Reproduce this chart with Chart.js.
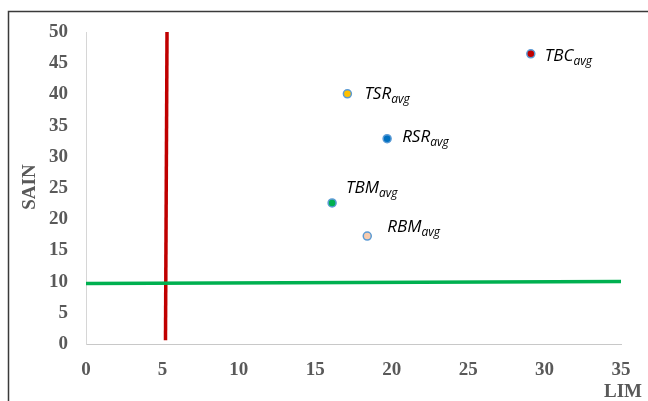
<!DOCTYPE html>
<html>
<head>
<meta charset="utf-8">
<script src="https://cdn.jsdelivr.net/npm/chart.js@4"></script>
<style>
html,body{margin:0;padding:0;background:#fff;}
#wrap{width:648px;height:401px;position:relative;}
</style>
</head>
<body>
<div id="wrap"><canvas id="c" width="648" height="401"></canvas></div>
<script>
// ---- data ----
const pointNames = ['TSR', 'RSR', 'TBM', 'RBM', 'TBC'];
const pointSub = 'avg';
const limValues = [17.1, 19.7, 16.1, 18.4, 29.1];
const sainValues = [40.1, 32.9, 22.6, 17.3, 46.5];
const greenLineLim = [0, 35];
const greenLineSain = [9.7, 10.0];
const redLineLim = [5.2, 5.3];
const redLineSain = [0.6, 50];
const xTicks = [0, 5, 10, 15, 20, 25, 30, 35];
const yTicks = [0, 5, 10, 15, 20, 25, 30, 35, 40, 45, 50];

// ---- styles ----
const pointFill = ['#FFC000', '#0070C0', '#00B050', '#F8CBAD', '#C00000'];
const labelOffsets = [[17, 5], [15, 3], [14, -10], [20, -4], [14, 7]];
const tickColor = '#595959';
const serif = '"Liberation Serif", "Times New Roman", serif';

const labelPlugin = {
  id: 'labels',
  afterDatasetsDraw(chart) {
    const ctx = chart.ctx;
    const xs = chart.scales.x, ys = chart.scales.y;
    ctx.save();
    ctx.fillStyle = '#000';
    ctx.textBaseline = 'alphabetic';
    ctx.textAlign = 'left';
    pointNames.forEach((n, i) => {
      const px = xs.getPixelForValue(limValues[i]) + labelOffsets[i][0];
      const py = ys.getPixelForValue(sainValues[i]) + labelOffsets[i][1];
      ctx.font = 'italic 17px "Open Sans", sans-serif';
      ctx.fillText(n, px, py);
      const w = ctx.measureText(n).width;
      ctx.font = 'italic 12px "Open Sans", sans-serif';
      ctx.fillText(pointSub, px + w, py + 4);
    });
    ctx.restore();
  }
};

const framePlugin = {
  id: 'frame',
  beforeDraw(chart) {
    const ctx = chart.ctx;
    ctx.save();
    ctx.fillStyle = '#fff';
    ctx.fillRect(0, 0, chart.width, chart.height);
    ctx.strokeStyle = '#3a3a3a';
    ctx.lineWidth = 1.5;
    ctx.beginPath();
    ctx.moveTo(8.5, 420);
    ctx.lineTo(8.5, 11.5);
    ctx.lineTo(660, 11.5);
    ctx.stroke();
    ctx.restore();
  },
  afterDraw(chart) {
    const ctx = chart.ctx;
    ctx.save();
    ctx.fillStyle = tickColor;
    ctx.font = 'bold 19px ' + serif;
    ctx.textAlign = 'center';
    ctx.textBaseline = 'middle';
    ctx.fillText('LIM', 623, 392);
    ctx.translate(30, 187);
    ctx.rotate(-Math.PI / 2);
    ctx.fillText('SAIN', 0, 0);
    ctx.restore();
  }
};

new Chart(document.getElementById('c'), {
  type: 'scatter',
  data: {
    datasets: [
      {
        label: 'green',
        data: greenLineLim.map((x, i) => ({x, y: greenLineSain[i]})),
        showLine: true, borderColor: '#00B050', borderWidth: 3.5,
        pointRadius: 0, clip: false
      },
      {
        label: 'red',
        data: redLineLim.map((x, i) => ({x, y: redLineSain[i]})),
        showLine: true, borderColor: '#C00000', borderWidth: 3.5,
        pointRadius: 0, clip: false
      },
      {
        label: 'points',
        data: limValues.map((x, i) => ({x, y: sainValues[i]})),
        backgroundColor: pointFill,
        borderColor: '#5B9BD5',
        borderWidth: 1.5,
        pointRadius: 4,
        clip: false
      }
    ]
  },
  options: {
    responsive: false,
    animation: false,
    layout: {padding: {left: 0, top: 32, right: 27, bottom: 0}},
    plugins: {legend: {display: false}, tooltip: {enabled: false}},
    scales: {
      x: {
        type: 'linear', min: 0, max: 35,
        afterBuildTicks(s) { s.ticks = xTicks.map(v => ({value: v})); },
        afterFit(s) { s.height = 401 - 344; },
        grid: {display: false, drawTicks: false},
        border: {display: true, color: '#c8c8c8', width: 1},
        ticks: {color: tickColor, font: {family: serif, size: 19, weight: 'bold'}, padding: 15, maxRotation: 0}
      },
      y: {
        type: 'linear', min: 0, max: 50,
        afterBuildTicks(s) { s.ticks = yTicks.map(v => ({value: v})); },
        afterFit(s) { s.width = 86; },
        grid: {display: false, drawTicks: false},
        border: {display: true, color: '#d6d6d6', width: 1},
        ticks: {color: tickColor, font: {family: serif, size: 19, weight: 'bold'}, padding: 18}
      }
    }
  },
  plugins: [framePlugin, labelPlugin]
});
</script>
</body>
</html>
